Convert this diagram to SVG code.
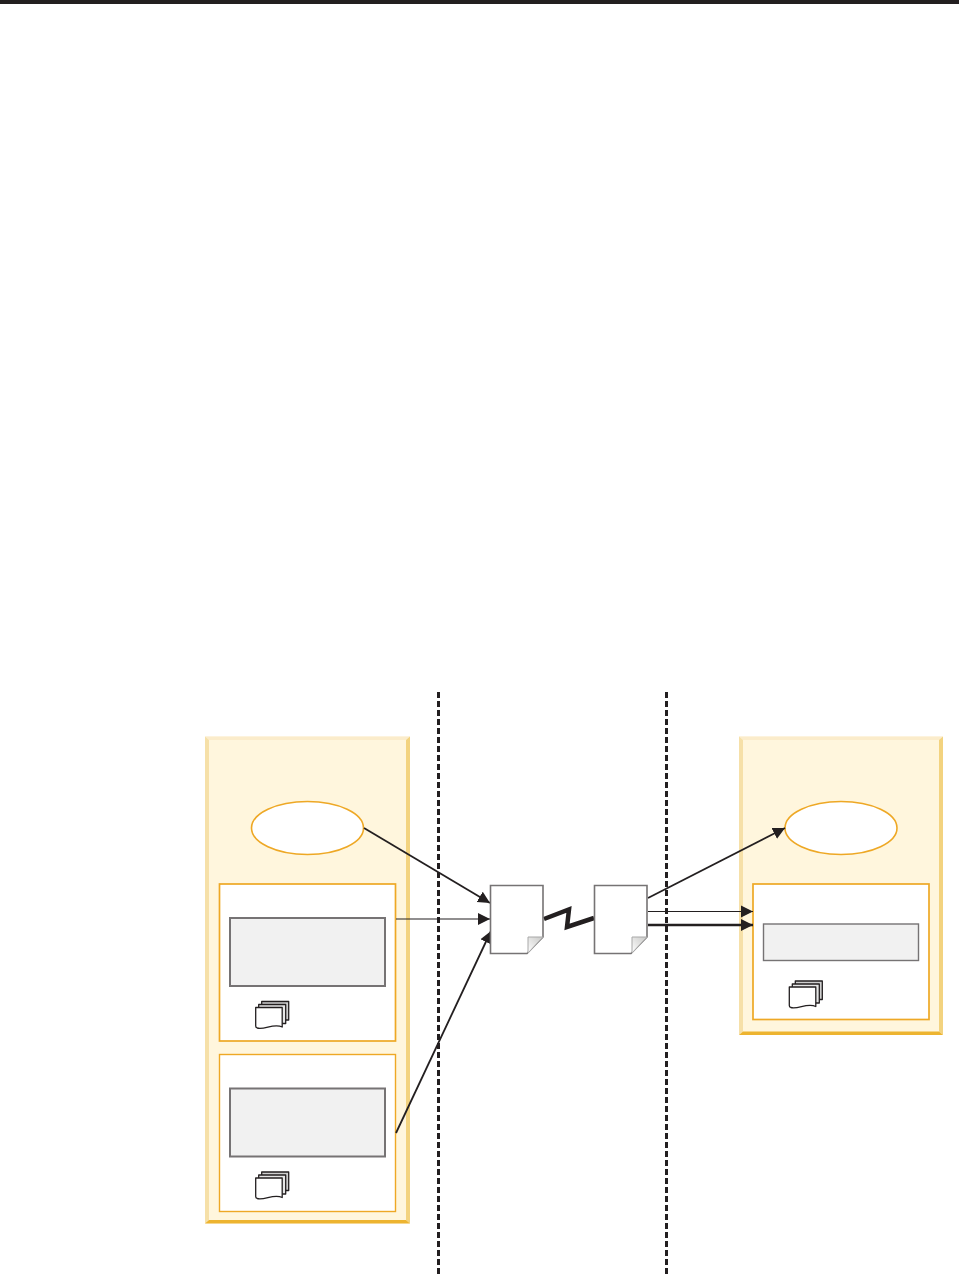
<svg xmlns="http://www.w3.org/2000/svg" width="959" height="1277" viewBox="0 0 959 1277">
<style>
.panel{fill:#fff6dd}
.box{fill:#fff;stroke:#eea825;stroke-width:1.700}
.thin{stroke-width:1.400}
.oval{fill:#fff;stroke:#eea825;stroke-width:1.600}
.inner{fill:#f1f1f1;stroke:#767374;stroke-width:2}
.doc{fill:#fff;stroke:#767374;stroke-width:1.600}
.fold{fill:url(#foldfill);stroke:#a8a8a8;stroke-width:1}
.sheet{stroke:#231f20;stroke-width:1.300;stroke-linejoin:round}
.div{stroke:#231f20;stroke-width:3;stroke-dasharray:6 3;fill:none}
.c{stroke:#231f20;fill:none}
</style>
<defs>
<linearGradient id="foldfill" x1="0" y1="1" x2="1" y2="0"><stop offset="0" stop-color="#ffffff"/><stop offset="1" stop-color="#c8c8c6"/></linearGradient>
<marker id="arrow" markerUnits="userSpaceOnUse" markerWidth="14" markerHeight="14" refX="12" refY="6.500" orient="auto"><path d="M0,0.500 L12,6.500 L0,12.500 Z" fill="#231f20"/></marker>
<g id="stack">
<path class="sheet" fill="#cfcfcf" d="M6,0 H33 V18.500 H6 Z"/>
<path class="sheet" fill="#e6e6e6" d="M3,3 H30 V22 H3 Z"/>
<path class="sheet" fill="#fff" d="M0,6 H26.500 V25.500 C18,21.500 9,28.500 1.500,26.500 Q0,26 0,24.500 Z"/>
</g>
</defs>
<rect id="top-rule" x="0" y="0" width="959" height="4" fill="#231f20"/>
<g id="dividers">
<line class="div" x1="438.500" y1="692" x2="438.500" y2="1278"/>
<line class="div" x1="666.500" y1="692" x2="666.500" y2="1278"/>
</g>
<g id="left-panel">
<rect class="panel" x="205" y="736.500" width="205" height="487"/>
<path fill="#fbeccb" d="M205,736.500 H410 L406,740 H209 Z"/>
<path fill="#f6e0a8" d="M205,736.500 L209,740 V1220 L205,1223.500 Z"/>
<path fill="#f3d37f" d="M410,736.500 V1223.500 L406,1220 V740 Z"/>
<path fill="#edb430" d="M205,1223.500 H410 L406,1220 H209 Z"/>
</g>
<g id="right-panel">
<rect class="panel" x="739" y="736.500" width="204" height="298.500"/>
<path fill="#fbeccb" d="M739,736.500 H943 L939,740 H743 Z"/>
<path fill="#f6e0a8" d="M739,736.500 L743,740 V1031.500 L739,1035 Z"/>
<path fill="#f3d37f" d="M943,736.500 V1035 L939,1031.500 V740 Z"/>
<path fill="#edb430" d="M739,1035 H943 L939,1031.500 H743 Z"/>
</g>
<g id="left-oval"><ellipse class="oval" cx="307.500" cy="828" rx="56" ry="26.500"/></g>
<g id="right-oval"><ellipse class="oval" cx="841" cy="828" rx="56" ry="26.500"/></g>
<g id="left-box-1">
<rect class="box" x="219.500" y="884" width="176" height="157"/>
<rect class="inner" x="230" y="918" width="155" height="68"/>
<use href="#stack" x="255.700" y="1001.500"/>
</g>
<g id="left-box-2">
<rect class="box thin" x="219.500" y="1054.500" width="176" height="157"/>
<rect class="inner" x="230" y="1088.500" width="155" height="68"/>
<use href="#stack" x="255.700" y="1172"/>
</g>
<g id="right-box">
<rect class="box" x="753" y="884" width="176" height="135.500"/>
<rect class="inner" x="763.500" y="924" width="155" height="36.500" style="stroke-width:1.400"/>
<use href="#stack" x="789.300" y="981"/>
</g>
<g id="connectors">
<line class="c" stroke-width="1.800" x1="364" y1="828" x2="490" y2="903" marker-end="url(#arrow)"/>
<line class="c" stroke-width="1.200" x1="396" y1="919" x2="490" y2="919" marker-end="url(#arrow)"/>
<line class="c" stroke-width="1.800" x1="396" y1="1133" x2="491" y2="931" marker-end="url(#arrow)"/>
<path class="c" stroke-width="4.500" d="M544,919 L569,909.500 L567,927 L594,918"/>
<line class="c" stroke-width="1.800" x1="648" y1="898" x2="785" y2="828" marker-end="url(#arrow)"/>
<line class="c" stroke-width="1.200" x1="648" y1="911.500" x2="753" y2="911.500" marker-end="url(#arrow)"/>
<line class="c" stroke-width="2.400" x1="648" y1="925" x2="753" y2="925" marker-end="url(#arrow)"/>
</g>
<g id="doc-left">
<path class="doc" d="M490.500,885.500 H543 V937 L527,953.500 H490.500 Z"/>
<path class="fold" d="M528,937 H543 L528,953 Z"/>
</g>
<g id="doc-right">
<path class="doc" d="M594.500,885.500 H647 V937 L631,953.500 H594.500 Z"/>
<path class="fold" d="M632,937 H647 L632,953 Z"/>
</g>
</svg>
